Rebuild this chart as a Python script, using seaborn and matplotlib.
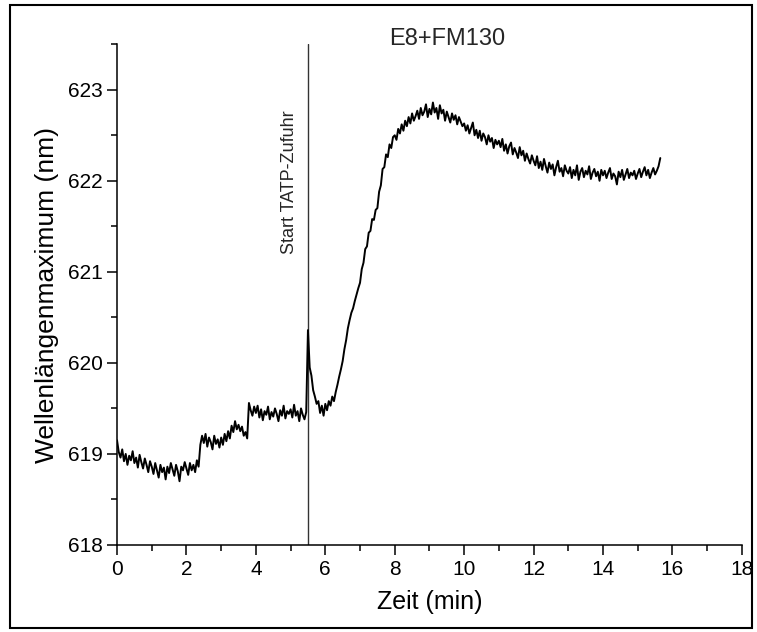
import numpy as np
import pandas as pd
import matplotlib
matplotlib.use("Agg")
import matplotlib.pyplot as plt
from matplotlib.ticker import MultipleLocator
from matplotlib.patches import Rectangle
import seaborn as sns

# ---- data (one value every 0.05 min) ----
time_step = 0.05
min00 = [619.15, 619.02, 618.96, 619.05, 618.92, 619.00, 618.88, 618.98, 618.93, 619.03,
         618.90, 618.96, 618.85, 618.99, 618.91, 618.84, 618.95, 618.88, 618.80, 618.92]
min01 = [618.86, 618.78, 618.90, 618.82, 618.74, 618.88, 618.80, 618.85, 618.72, 618.86,
         618.79, 618.90, 618.83, 618.76, 618.88, 618.81, 618.70, 618.86, 618.82, 618.91]
min02 = [618.84, 618.77, 618.90, 618.82, 618.88, 618.80, 618.93, 618.86, 619.10, 619.20,
         619.12, 619.22, 619.08, 619.18, 619.13, 619.05, 619.20, 619.11, 619.16, 619.07]
min03 = [619.18, 619.10, 619.22, 619.14, 619.25, 619.17, 619.31, 619.24, 619.36, 619.27,
         619.32, 619.25, 619.30, 619.20, 619.24, 619.17, 619.56, 619.48, 619.42, 619.52]
min04 = [619.45, 619.53, 619.40, 619.49, 619.37, 619.47, 619.43, 619.52, 619.38, 619.46,
         619.41, 619.50, 619.44, 619.36, 619.48, 619.42, 619.53, 619.39, 619.47, 619.44]
min05 = [619.49, 619.40, 619.54, 619.42, 619.47, 619.36, 619.50, 619.43, 619.38, 619.46,
         620.36, 619.95, 619.86, 619.70, 619.63, 619.55, 619.58, 619.45, 619.53, 619.42]
min06 = [619.55, 619.48, 619.58, 619.53, 619.63, 619.58, 619.68, 619.76, 619.85, 619.93,
         620.02, 620.15, 620.25, 620.38, 620.47, 620.55, 620.60, 620.68, 620.75, 620.82]
min07 = [620.88, 621.03, 621.10, 621.25, 621.28, 621.43, 621.45, 621.58, 621.57, 621.68,
         621.70, 621.88, 621.95, 622.13, 622.15, 622.29, 622.26, 622.40, 622.36, 622.48]
min08 = [622.50, 622.45, 622.57, 622.52, 622.62, 622.55, 622.66, 622.60, 622.70, 622.63,
         622.74, 622.66, 622.71, 622.77, 622.68, 622.80, 622.72, 622.76, 622.84, 622.70]
min09 = [622.79, 622.73, 622.86, 622.75, 622.80, 622.68, 622.83, 622.74, 622.78, 622.66,
         622.76, 622.70, 622.64, 622.74, 622.67, 622.72, 622.62, 622.70, 622.65, 622.60]
min10 = [622.63, 622.55, 622.61, 622.52, 622.58, 622.64, 622.50, 622.56, 622.47, 622.55,
         622.44, 622.52, 622.48, 622.40, 622.50, 622.43, 622.47, 622.36, 622.45, 622.40]
min11 = [622.44, 622.37, 622.46, 622.33, 622.40, 622.30, 622.38, 622.42, 622.29, 622.36,
         622.31, 622.25, 622.37, 622.28, 622.33, 622.22, 622.30, 622.24, 622.19, 622.28]
min12 = [622.22, 622.17, 622.27, 622.14, 622.21, 622.12, 622.24, 622.16, 622.09, 622.20,
         622.13, 622.18, 622.06, 622.15, 622.22, 622.10, 622.14, 622.05, 622.17, 622.11]
min13 = [622.08, 622.15, 622.03, 622.12, 622.06, 622.17, 622.01, 622.10, 622.14, 622.04,
         622.11, 622.07, 622.16, 622.02, 622.09, 622.13, 622.05, 622.10, 622.00, 622.12]
min14 = [622.06, 622.11, 622.03, 622.09, 622.14, 622.02, 622.08, 622.05, 621.96, 622.10,
         622.04, 622.12, 622.01, 622.07, 622.13, 622.03, 622.09, 622.06, 622.11, 622.02]
min15 = [622.08, 622.13, 622.04, 622.10, 622.15, 622.06, 622.12, 622.03, 622.09, 622.14,
         622.07, 622.11, 622.16, 622.25]

start_time = 5.5
start_label = "Start TATP-Zufuhr"
title = "E8+FM130"
x_label = "Zeit (min)"
y_label = "Wellenlängenmaximum (nm)"
x_ticks = [0, 2, 4, 6, 8, 10, 12, 14, 16, 18]
y_ticks = [618, 619, 620, 621, 622, 623]

wavelength = (min00 + min01 + min02 + min03 + min04 + min05 + min06 + min07 + min08
              + min09 + min10 + min11 + min12 + min13 + min14 + min15)
time = [round(i * time_step, 2) for i in range(len(wavelength))]
df = pd.DataFrame({"Zeit": time, "Wellenlaenge": wavelength})

# ---- style ----
sns.set_style("ticks")
plt.rcParams["font.family"] = ["Liberation Sans", "DejaVu Sans"]

fig = plt.figure(figsize=(7.57, 6.32), dpi=100)
ax = fig.add_axes([0.1546, 0.1377, 0.980 - 0.1546, 0.930 - 0.1377])

sns.lineplot(data=df, x="Zeit", y="Wellenlaenge", ax=ax, color="black",
             linewidth=1.4, estimator=None, sort=False)

ax.axvline(start_time, color="#333333", linewidth=1.0, zorder=1)
ax.text(start_time - 0.52, 621.98, start_label, rotation=90, ha="center", va="center",
        fontsize=13)
ax.text(9.5, 623.56, title, ha="center", va="center", fontsize=17)

ax.set_xlim(0, 18)
ax.set_ylim(618, 623.5)
ax.set_xticks(x_ticks)
ax.set_yticks(y_ticks)
ax.xaxis.set_minor_locator(MultipleLocator(1))
ax.yaxis.set_minor_locator(MultipleLocator(0.5))
ax.tick_params(which="major", direction="out", length=7, width=1.1, labelsize=15,
               color="black", labelcolor="black")
ax.tick_params(which="minor", direction="out", length=4, width=1.1, color="black")
ax.set_xlabel(x_label, fontsize=18, color="black", labelpad=8)
ax.set_ylabel(y_label, fontsize=19, color="black", labelpad=6)
sns.despine(ax=ax)
for s in ("left", "bottom"):
    ax.spines[s].set_linewidth(1.1)
    ax.spines[s].set_color("black")

fig.patches.append(Rectangle((0.013, 0.006), 0.981, 0.986, transform=fig.transFigure,
                             fill=False, edgecolor="black", linewidth=1.5))

fig.savefig("out.png", dpi=100)
